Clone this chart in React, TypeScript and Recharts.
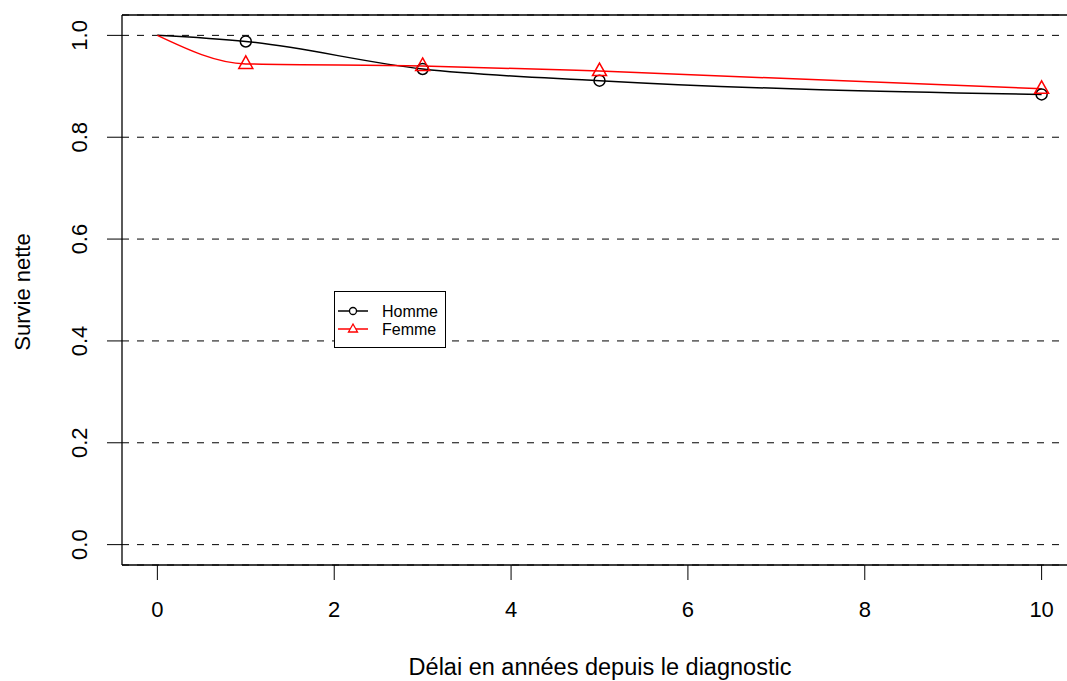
import React from "react";
import { LineChart, Line, XAxis, YAxis, CartesianGrid, ReferenceLine, Legend } from "recharts";

const years = [0, 1, 3, 5, 10];
const homme = [1.0, 0.988, 0.934, 0.911, 0.884];
const femme = [1.0, 0.944, 0.94, 0.93, 0.895];
const xTicks = [0, 2, 4, 6, 8, 10];
const yTicks = [0, 0.2, 0.4, 0.6, 0.8, 1.0];
const seriesNames = ["Homme", "Femme"];
const xTitle = "Délai en années depuis le diagnostic";
const yTitle = "Survie nette";

const data = years.map((t, i) => ({ t, homme: homme[i], femme: femme[i] }));

const FONT = "'Liberation Sans', Arial, Helvetica, sans-serif";

const CircleDot = (props: any) => {
  const { cx, cy, index } = props;
  if (index === 0 || cx == null) return <g key={`hc-${index}`} />;
  return <circle key={`hc-${index}`} cx={cx} cy={cy} r={5.5} fill="none" stroke="#000" strokeWidth={1.5} />;
};

const TriDot = (props: any) => {
  const { cx, cy, index } = props;
  if (index === 0 || cx == null) return <g key={`ft-${index}`} />;
  const d = `M${cx},${cy - 8} L${cx + 7},${cy + 4.5} L${cx - 7},${cy + 4.5} Z`;
  return <path key={`ft-${index}`} d={d} fill="none" stroke="#ff0000" strokeWidth={1.5} />;
};

const XTick = (props: any) => {
  const { x, payload } = props;
  return (
    <text x={x} y={617} textAnchor="middle" fontFamily={FONT} fontSize={22} fill="#000">
      {String(payload.value)}
    </text>
  );
};

const YTick = (props: any) => {
  const { y, payload } = props;
  const cx = 87;
  return (
    <text
      x={cx}
      y={y}
      transform={`rotate(-90, ${cx}, ${y})`}
      textAnchor="middle"
      fontFamily={FONT}
      fontSize={22}
      fill="#000"
    >
      {Number(payload.value).toFixed(1)}
    </text>
  );
};

const XTitle = () => (
  <text x={600} y={675} textAnchor="middle" fontFamily={FONT} fontSize={23.5} fill="#000">
    {xTitle}
  </text>
);

const YTitle = () => (
  <text
    x={30}
    y={292}
    transform="rotate(-90, 30, 292)"
    textAnchor="middle"
    fontFamily={FONT}
    fontSize={22}
    fill="#000"
  >
    {yTitle}
  </text>
);

const LegendBox = () => (
  <svg width={113} height={58} style={{ display: "block" }}>
    <rect x={0.5} y={0.5} width={111} height={56} fill="#fff" stroke="#000" strokeWidth={1} />
    <line x1={4} y1={20} x2={34} y2={20} stroke="#000" strokeWidth={1.5} />
    <circle cx={19} cy={20} r={3.5} fill="#fff" stroke="#000" strokeWidth={1.3} />
    <text x={48} y={25.5} fontFamily={FONT} fontSize={16} fill="#000">{seriesNames[0]}</text>
    <line x1={4} y1={38} x2={34} y2={38} stroke="#ff0000" strokeWidth={1.5} />
    <path d="M19,33 L23.5,41 L14.5,41 Z" fill="#fff" stroke="#ff0000" strokeWidth={1.3} />
    <text x={48} y={43.5} fontFamily={FONT} fontSize={16} fill="#000">{seriesNames[1]}</text>
  </svg>
);

export default function App() {
  return (
    <div style={{ position: "absolute", left: 0, top: 0, width: 1067, height: 681, background: "#fff" }}>
      <LineChart width={1067} height={681} data={data} margin={{ top: 15, right: 0, bottom: 0, left: 0 }}>
        <CartesianGrid horizontal vertical={false} stroke="#000" strokeDasharray="7 8" />
        <XAxis
          dataKey="t"
          type="number"
          domain={[-0.4, 10.287]}
          allowDataOverflow
          ticks={xTicks}
          height={116}
          tickSize={15}
          tickLine={{ stroke: "#000" }}
          axisLine={{ stroke: "#000", strokeWidth: 1.3 }}
          tick={<XTick />}
          interval={0}
          label={<XTitle />}
        />
        <YAxis
          type="number"
          domain={[-0.04, 1.04]}
          allowDataOverflow
          ticks={yTicks}
          width={122}
          tickSize={15}
          tickLine={{ stroke: "#000" }}
          axisLine={{ stroke: "#000", strokeWidth: 1.3 }}
          tick={<YTick />}
          interval={0}
          label={<YTitle />}
        />
        <ReferenceLine y={1.04} stroke="#000" strokeWidth={1.3} ifOverflow="extendDomain" />
        <Line
          type="monotone"
          dataKey="homme"
          name={seriesNames[0]}
          stroke="#000"
          strokeWidth={1.5}
          dot={CircleDot}
          activeDot={false}
          isAnimationActive={false}
        />
        <Line
          type="monotone"
          dataKey="femme"
          name={seriesNames[1]}
          stroke="#ff0000"
          strokeWidth={1.5}
          dot={TriDot}
          activeDot={false}
          isAnimationActive={false}
        />
        <Legend
          layout="vertical"
          align="center"
          verticalAlign="middle"
          content={() => <LegendBox />}
          wrapperStyle={{ position: "absolute", left: 334, top: 291, width: 113, height: 58 }}
        />
      </LineChart>
    </div>
  );
}
